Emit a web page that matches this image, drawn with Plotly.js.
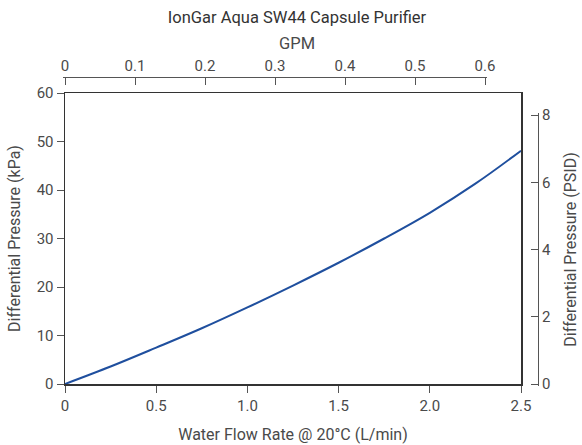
<!DOCTYPE html>
<html>
<head>
<meta charset="utf-8">
<script src="https://cdn.plot.ly/plotly-3.0.1.min.js"></script>
<style>html,body{margin:0;padding:0;background:#fff;}#chart{width:582px;height:445px;}</style>
</head>
<body>
<div id="chart"></div>
<script>
// Data
const flowLpm = [0, 0.25, 0.5, 0.75, 1.0, 1.25, 1.5, 1.75, 2.0, 2.25, 2.5];
const dpKPa   = [0, 3.6, 7.5, 11.5, 15.8, 20.3, 25.0, 30.0, 35.3, 41.3, 48.1];

const xTickVals = [0, 0.5, 1.0, 1.5, 2.0, 2.5];
const xTickText = ['0', '0.5', '1.0', '1.5', '2.0', '2.5'];
const gpmTickVals = [0, 0.1, 0.2, 0.3, 0.4, 0.5, 0.6];
const gpmTickText = ['0', '0.1', '0.2', '0.3', '0.4', '0.5', '0.6'];
const psiTickVals = [0, 2, 4, 6, 8];

const FONT = 'Roboto, "Liberation Sans", Arial, sans-serif';
const TXT = '#4a4a4a';
const AX = '#333333';
const FS = 15;     // tick labels
const FT = 16;     // axis titles

// small pad so the end ticks of the free axes are not clipped
const GPM_PAD = 2 / 700;
const PSI_PAD = 2 / 33.625;

const traces = [
  {
    x: flowLpm, y: dpKPa, type: 'scatter', mode: 'lines',
    line: {color: '#1f4f9e', width: 2, shape: 'spline'},
    xaxis: 'x', yaxis: 'y', hoverinfo: 'skip', showlegend: false
  },
  {
    x: [gpmTickVals[0]], y: [psiTickVals[0]], type: 'scatter', mode: 'markers',
    marker: {opacity: 0, size: 1}, xaxis: 'x2', yaxis: 'y2',
    hoverinfo: 'skip', showlegend: false
  }
];

const layout = {
  width: 582, height: 445,
  margin: {l: 63, r: 44, t: 77, b: 59, pad: 0},
  paper_bgcolor: '#ffffff', plot_bgcolor: 'rgba(0,0,0,0)',
  font: {family: FONT, size: FS, color: TXT},
  title: {text: 'IonGar Aqua SW44 Capsule Purifier', font: {family: FONT, size: 16.5, color: '#333'},
          x: 0.4926, xref: 'paper', xanchor: 'center', y: 0.9607, yref: 'container', yanchor: 'middle'},
  annotations: [{text: 'GPM', xref: 'paper', yref: 'paper', x: 0.4926, y: 1, yshift: 33.5,
                 xanchor: 'center', yanchor: 'middle', showarrow: false, font: {size: 16.5, color: TXT}}],
  xaxis: {
    domain: [2 / 475, 458 / 475], range: [0, 2.5], tickvals: xTickVals, ticktext: xTickText,
    showgrid: false, zeroline: false, showline: true, mirror: true,
    linecolor: AX, linewidth: 1.5, ticks: 'outside', ticklen: 7, tickcolor: '#555', tickwidth: 1,
    tickfont: {size: FS, color: TXT},
    title: {text: 'Water Flow Rate @ 20°C (L/min)', font: {size: FT, color: TXT}, standoff: 15}
  },
  yaxis: {
    domain: [2 / 309, 293 / 309], range: [0, 60], dtick: 10,
    showgrid: false, zeroline: false, showline: true, mirror: true,
    linecolor: AX, linewidth: 1.5, ticks: 'outside', ticklen: 7, tickcolor: '#555', tickwidth: 1,
    tickfont: {size: FS, color: TXT},
    title: {text: 'Differential Pressure (kPa)', font: {size: FT, color: TXT}, standoff: 12}
  },
  xaxis2: {
    domain: [0, 424 / 475], range: [-GPM_PAD, 0.6 + GPM_PAD], tickvals: gpmTickVals, ticktext: gpmTickText,
    side: 'top', anchor: 'free', position: 1,
    showgrid: false, zeroline: false, showline: true,
    linecolor: '#555', linewidth: 1, ticks: 'inside', ticklen: 7, tickcolor: '#555', tickwidth: 1,
    tickfont: {size: FS, color: TXT}
  },
  yaxis2: {
    domain: [0, 273 / 309], range: [-PSI_PAD, 8 + PSI_PAD], tickvals: psiTickVals,
    side: 'right', anchor: 'free', position: 1,
    showgrid: false, zeroline: false, showline: true,
    linecolor: '#555', linewidth: 1, ticks: 'inside', ticklen: 7, tickcolor: '#555', tickwidth: 1,
    tickfont: {size: FS, color: TXT},
    title: {text: 'Differential Pressure (PSID)', font: {size: FT, color: TXT}, standoff: 14}
  }
};

Plotly.newPlot('chart', traces, layout, {displayModeBar: false, staticPlot: true});
</script>
</body>
</html>
